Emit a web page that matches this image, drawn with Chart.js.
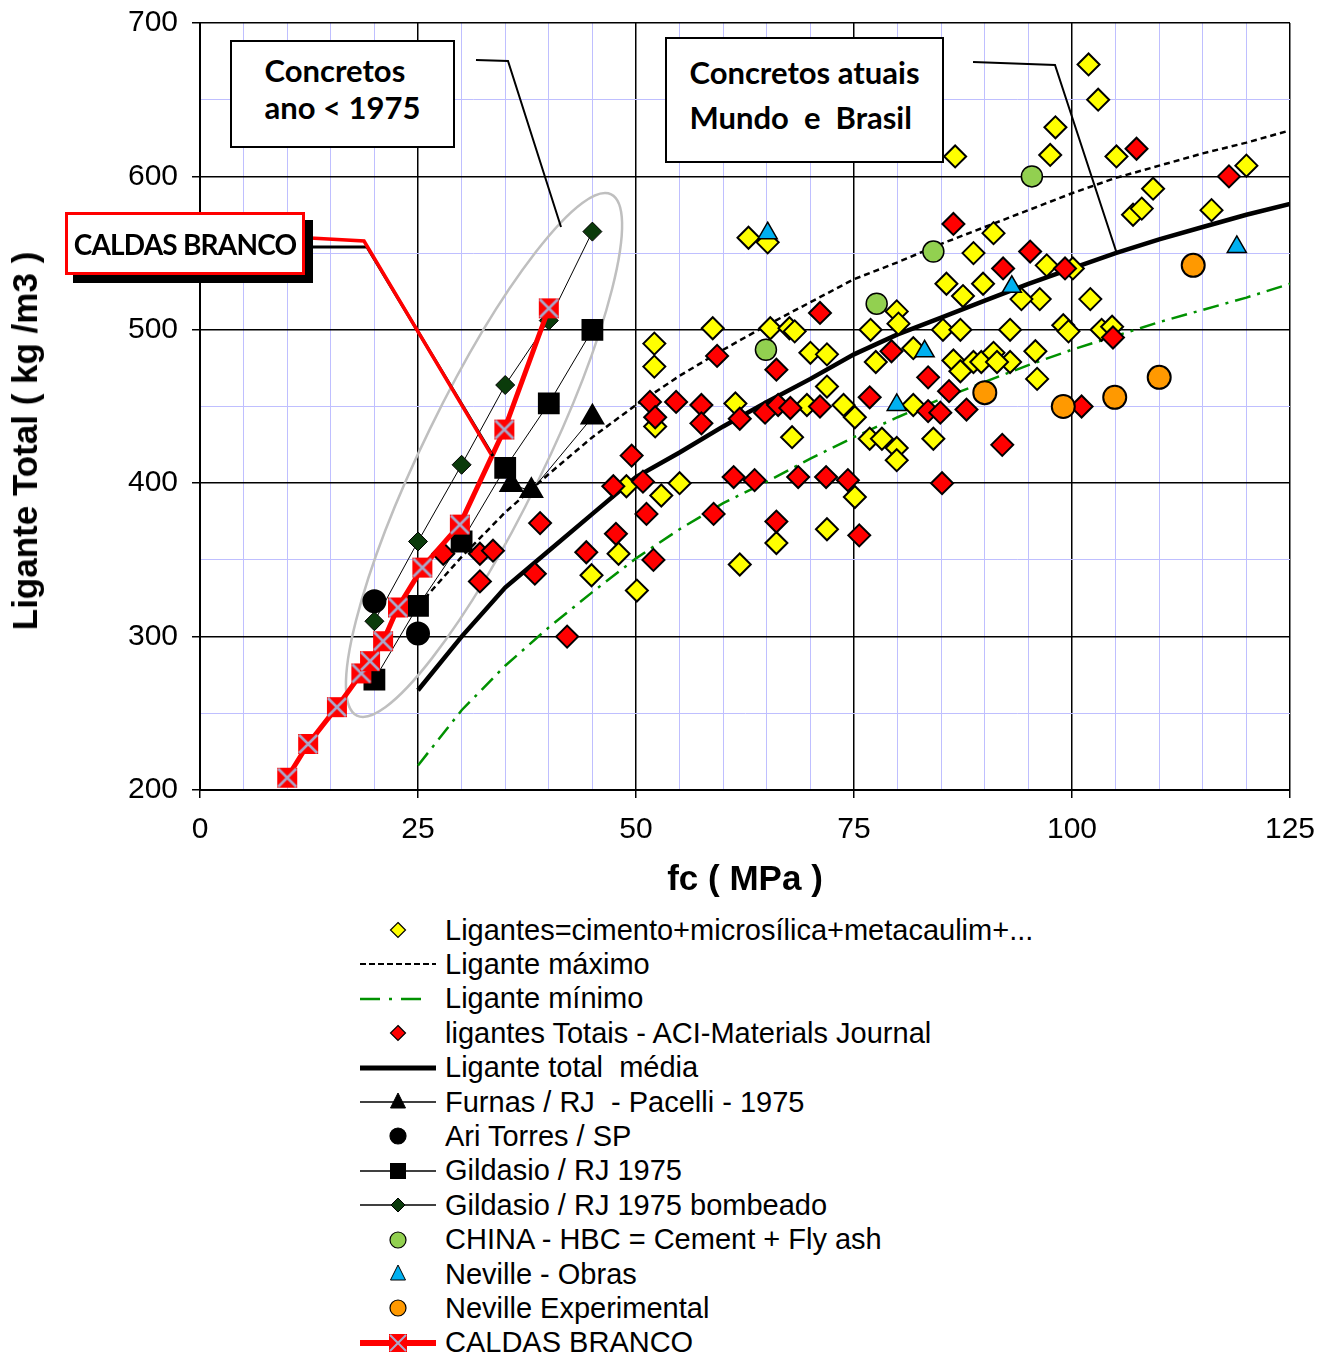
<!DOCTYPE html>
<html>
<head>
<meta charset="utf-8">
<script src="https://cdn.jsdelivr.net/npm/chart.js@4.4.0/dist/chart.umd.min.js"></script>
<style>
  html, body { margin: 0; padding: 0; background: #fff; overflow: hidden; }
  #wrap { position: relative; width: 1327px; height: 1355px; }
  canvas { position: absolute; left: 0; top: 0; }
  .box { position: absolute; box-sizing: border-box; background: #fff; display: flex; flex-direction: column;
         justify-content: center; align-items: center; font-family: Lato, 'Open Sans', sans-serif; font-weight: bold;
         color: #000; white-space: pre; }
  .ytitle { position: absolute; left: 25px; top: 441px; transform: translate(-50%, -50%) rotate(-90deg);
            font-family: 'Liberation Sans', Arial, sans-serif; font-weight: bold; font-size: 35px; white-space: nowrap; color: #000; }
  .legend-row { position: absolute; left: 358px; height: 34px; display: flex; align-items: center; }
  .legend-row span { font-family: 'Liberation Sans', Arial, sans-serif; font-size: 29px; color: #000; white-space: pre; margin-left: 7px; }
</style>
</head>
<body>
<div id="wrap">
  <canvas id="chart" width="1327" height="905"></canvas>
  <div class="ytitle">Ligante Total ( kg /m3 )</div>
  <div class="box" style="left:230px;top:40px;width:225px;height:108px;border:2px solid #000;font-size:31px;line-height:37px;padding-bottom:10px;">Concretos<br>ano &lt; 1975</div>
  <div class="box" style="left:665px;top:37px;width:279px;height:126px;border:2px solid #000;font-size:31px;line-height:45px;padding-bottom:11px;">Concretos atuais<br>Mundo  e  Brasil</div>
  <div class="box" style="left:65px;top:212px;width:240px;height:63px;border:3px solid #FF0000;box-shadow:8px 8px 0 #000;font-size:28px;letter-spacing:-0.8px;">CALDAS BRANCO</div>
  <div id="legend"></div>
</div>
<script>
// curves (fc in MPa, binder in kg/m3)
const curveFc = [25, 30, 35, 40, 45, 50, 55, 60, 65, 70, 75, 80, 85, 90, 95, 100, 105, 110, 115, 120, 125];
const maxY    = [320, 352, 381, 406, 430, 451, 470, 487, 503, 518, 533, 544, 556, 567, 578, 589, 599, 607, 615, 622, 630];
const minY    = [216, 252, 281, 306, 329, 351, 370, 387, 401, 416, 430, 443, 455, 466, 477, 487, 496, 505, 513, 521, 530];
const mediaY  = [265, 300, 332, 356, 380, 404, 420, 437, 453, 468, 484, 497, 508, 519, 530, 540, 550, 559, 567, 575, 582];

// [fc, ligante]
const ligantesPts = [
  [62.9,560],[65.1,557],[88.7,550],[85.6,530],[87.5,522],[58.8,501],[52.1,491],[52.1,476],[65.4,501],[67.6,501],
  [68.2,499],[70,485],[71.9,484],[76.9,500],[79.9,512],[80.1,504],[77.5,479],[81.8,488],[85.2,500],[87.2,500],
  [86.4,480],[88.7,479],[87.2,473],[71.9,463],[61.4,452],[69.6,451],[73.8,451],[75.1,443],[76.8,429],[78.2,429],
  [79.9,423],[79.9,415],[81.8,451],[84.1,429],[52.2,437],[67.9,430],[48.9,398],[55,400],[52.9,392],[75.1,391],
  [71.9,370],[66.1,361],[50.1,330],[44.9,340],[48,354],[61.9,347],[101.9,673],[103,650],[98.1,632],[97.5,614],
  [86.6,613],[105.1,613],[109.3,592],[107,575],[108,579],[116,578],[120,607],[91,563],[97.1,542],[100.1,540],
  [89.8,530],[96.3,520],[102.1,520],[94.2,520],[92.9,500],[99,503],[99.6,499],[103.4,500],[104.6,502],[95.8,486],
  [92.9,479],[89.6,479],[91,485],[91.4,479],[96,468]
];
const aciPts = [
  [86.4,569],[71.1,511],[59.3,483],[66.1,474],[79.3,486],[83.5,469],[85.9,460],[51.6,453],[52.2,443],[54.6,453],
  [57.5,451],[57.5,439],[61.9,442],[64.8,446],[66.3,451],[67.7,449],[71.1,450],[76.8,456],[83.5,447],[84.9,446],
  [87.9,448],[49.5,418],[47.4,398],[50.8,401],[51.2,380],[58.9,380],[61.2,404],[63.6,402],[68.6,404],[71.8,404],
  [74.3,402],[85.1,400],[66.1,375],[75.6,366],[47.7,367],[44.3,355],[52,350],[42.1,300],[107.4,618],[118,600],
  [95.2,551],[92.1,540],[99.2,540],[104.7,495],[92,425],[101.1,450],[27.9,354],[32.1,354],[33.6,356],[32.1,336],
  [39,374],[38.4,341]
];
const furnasPts   = [[35.7,399],[38,395],[45,443]];
const ariPts      = [[20,323],[25,302]];
const gildasioPts = [[20,272],[25,320],[30,362],[35,410],[40,452],[45,500]];
const bombeadoPts = [[20,310],[25,362],[30,412],[35,464],[40,506],[45,564]];
const chinaPts    = [[84.1,551],[77.6,517],[64.9,487],[95.4,600]];
const obrasPts    = [[65.1,563],[83.1,486],[79.9,451],[118.9,554],[93.1,528]];
const expPts      = [[113.9,542],[90,459],[99,450],[104.9,456],[110,469]];
const caldasPts   = [[10,208],[12.4,230],[15.7,254],[18.5,276],[19.5,284],[21,297],[22.7,319],[25.5,345],[29.8,373],[34.9,435],[40,514]];

const xTicks = [0, 25, 50, 75, 100, 125];
const yTicks = [200, 300, 400, 500, 600, 700];

const FONT = "'Liberation Sans', Arial, sans-serif";
const pts = a => a.map(([x, y]) => ({ x, y }));
const curve = ys => curveFc.map((x, i) => ({ x, y: ys[i] }));

function caldasMarker() {
  const c = document.createElement('canvas');
  c.width = c.height = 24;
  const g = c.getContext('2d');
  g.fillStyle = '#FF0000';
  g.fillRect(2, 2, 20, 20);
  g.strokeStyle = '#A9A9CC';
  g.lineWidth = 2.5;
  g.beginPath();
  g.moveTo(3, 3); g.lineTo(21, 21);
  g.moveTo(21, 3); g.lineTo(3, 21);
  g.stroke();
  return c;
}

const scatter = (label, data, style, color, radius, order, extra) => Object.assign({
  label, data: pts(data), showLine: false, pointStyle: style, pointRadius: radius,
  pointBackgroundColor: color, pointBorderColor: '#000', pointBorderWidth: 2, order
}, extra || {});

const datasets = [
  { label: 'Ligante mínimo', data: curve(minY), showLine: true, pointRadius: 0, borderColor: '#009100',
    borderWidth: 2.5, borderDash: [16, 7, 3, 7], order: 20 },
  { label: 'Ligante máximo', data: curve(maxY), showLine: true, pointRadius: 0, borderColor: '#000',
    borderWidth: 2.5, borderDash: [6, 4], order: 19 },
  { label: 'Ligante total  média', data: curve(mediaY), showLine: true, pointRadius: 0, borderColor: '#000',
    borderWidth: 4.5, order: 18 },
  scatter('Ligantes=cimento+microsílica+metacaulim+...', ligantesPts, 'rectRot', '#FFFF00', 11, 17),
  scatter('ligantes Totais - ACI-Materials Journal', aciPts, 'rectRot', '#FF0000', 11, 16),
  scatter('CHINA - HBC = Cement + Fly ash', chinaPts, 'circle', '#92D050', 10.5, 15, { pointBorderWidth: 1.5 }),
  scatter('Neville - Obras', obrasPts, 'triangle', '#00B0F0', 11, 14, { pointBorderWidth: 1.5 }),
  scatter('Neville Experimental', expPts, 'circle', '#FF9900', 11.5, 13, { pointBorderWidth: 2 }),
  scatter('Gildasio / RJ 1975', gildasioPts, 'rect', '#000', 14, 11, { showLine: true, borderColor: '#000', borderWidth: 1 }),
  scatter('Gildasio / RJ 1975 bombeado', bombeadoPts, 'rectRot', '#0B3B0B', 9.5, 10, { showLine: true, borderColor: '#000', borderWidth: 1, pointBorderWidth: 1 }),
  scatter('Furnas / RJ  - Pacelli - 1975', furnasPts, 'triangle', '#000', 12.5, 9, { showLine: true, borderColor: '#000', borderWidth: 1 }),
  scatter('Ari Torres / SP', ariPts, 'circle', '#000', 11, 8),
  { label: 'CALDAS BRANCO', data: pts(caldasPts), showLine: true, borderColor: '#FF0000', borderWidth: 5,
    pointStyle: caldasMarker(), pointRadius: 12, order: 1 }
];

// annotation geometry in data units
const ellipseCenter = { x: 32.57, y: 418.4 };
const leaders = [
  { color: '#000', width: 2, path: [[31.65, 675.9], [35.32, 675.2], [41.4, 567.0]] },
  { color: '#000', width: 2, path: [[88.65, 674.6], [98.05, 672.6], [105.16, 549.4]] },
  { color: '#000', width: 3, path: [[12.61, 554.0], [19.15, 554.0], [33.6, 417.7]] },
  { color: '#FF0000', width: 3.5, path: [[12.61, 559.8], [18.81, 557.9], [33.37, 419.0]] }
];

const notes = {
  id: 'notes',
  beforeDatasetsDraw(chart) {
    const { ctx, scales: { x, y } } = chart;
    ctx.save();
    ctx.strokeStyle = '#BFBFBF';
    ctx.lineWidth = 2.5;
    ctx.beginPath();
    ctx.ellipse(x.getPixelForValue(ellipseCenter.x), y.getPixelForValue(ellipseCenter.y), 290, 60, -64 * Math.PI / 180, 0, Math.PI * 2);
    ctx.stroke();
    ctx.restore();
  },
  afterDatasetsDraw(chart) {
    const { ctx, scales: { x, y } } = chart;
    ctx.save();
    leaders.forEach(l => {
      ctx.strokeStyle = l.color;
      ctx.lineWidth = l.width;
      ctx.beginPath();
      l.path.forEach(([a, b], i) => {
        const px = x.getPixelForValue(a), py = y.getPixelForValue(b);
        i ? ctx.lineTo(px, py) : ctx.moveTo(px, py);
      });
      ctx.stroke();
    });
    ctx.restore();
  }
};

new Chart(document.getElementById('chart'), {
  type: 'scatter',
  data: { datasets },
  plugins: [notes],
  options: {
    responsive: false,
    animation: false,
    devicePixelRatio: 1,
    events: [],
    layout: { padding: { top: 23, right: 37, left: 0, bottom: 0 } },
    plugins: { legend: { display: false }, tooltip: { enabled: false } },
    scales: {
      x: {
        type: 'linear', min: 0, max: 125,
        afterFit: s => { s.height = 115; s.paddingLeft = 0; s.paddingRight = 0; },
        ticks: { stepSize: 5, autoSkip: false, maxRotation: 0, padding: 14, color: '#000',
                 font: { family: FONT, size: 30 },
                 callback: v => xTicks.includes(v) ? v : '' },
        grid: { color: c => xTicks.includes(c.tick.value) ? '#000' : '#BFBFFF',
                lineWidth: c => xTicks.includes(c.tick.value) ? 1.5 : 1,
                tickColor: c => xTicks.includes(c.tick.value) ? '#000' : 'rgba(0,0,0,0)', tickLength: 8 },
        border: { color: '#000', width: 2 },
        title: { display: true, text: 'fc ( MPa )', color: '#000', padding: { top: 4, bottom: 4 },
                 font: { family: FONT, size: 35, weight: 'bold' } }
      },
      y: {
        type: 'linear', min: 200, max: 700,
        afterFit: s => { s.width = 200; s.paddingTop = 0; s.paddingBottom = 0; },
        ticks: { stepSize: 50, autoSkip: false, padding: 14, color: '#000',
                 font: { family: FONT, size: 30 },
                 callback: v => yTicks.includes(v) ? v : '' },
        grid: { color: c => yTicks.includes(c.tick.value) ? '#000' : '#BFBFFF',
                lineWidth: c => yTicks.includes(c.tick.value) ? 1.5 : 1,
                tickColor: c => yTicks.includes(c.tick.value) ? '#000' : 'rgba(0,0,0,0)', tickLength: 8 },
        border: { color: '#000', width: 2 },
        title: { display: false }
      }
    }
  }
});

// legend, in the order of the original figure
const legendItems = [
  ['Ligantes=cimento+microsílica+metacaulim+...', 'diamond', '#FFFF00'],
  ['Ligante máximo', 'dash'],
  ['Ligante mínimo', 'dashdot'],
  ['ligantes Totais - ACI-Materials Journal', 'diamond', '#FF0000'],
  ['Ligante total  média', 'thick'],
  ['Furnas / RJ  - Pacelli - 1975', 'lineTri'],
  ['Ari Torres / SP', 'circle', '#000'],
  ['Gildasio / RJ 1975', 'lineSquare'],
  ['Gildasio / RJ 1975 bombeado', 'lineDiamond'],
  ['CHINA - HBC = Cement + Fly ash', 'circle', '#92D050'],
  ['Neville - Obras', 'tri', '#00B0F0'],
  ['Neville Experimental', 'circle', '#FF9900'],
  ['CALDAS BRANCO', 'caldas']
];

function symbol(kind, fill) {
  const line = (w, extra) => `<line x1="2" y1="17" x2="78" y2="17" stroke="${extra || '#000'}" stroke-width="${w}"/>`;
  const diamond = (r, f, sw) => `<polygon points="40,${17 - r} ${40 + r},17 40,${17 + r} ${40 - r},17" fill="${f}" stroke="#000" stroke-width="${sw}"/>`;
  const tri = (f) => `<polygon points="40,8 47.5,23 32.5,23" fill="${f}" stroke="#000" stroke-width="1"/>`;
  let s = '';
  switch (kind) {
    case 'diamond': s = diamond(7.5, fill, 1.2); break;
    case 'dash': s = `<line x1="2" y1="17" x2="78" y2="17" stroke="#000" stroke-width="2" stroke-dasharray="6 3"/>`; break;
    case 'dashdot': s = `<line x1="2" y1="17" x2="72" y2="17" stroke="#009100" stroke-width="2.5" stroke-dasharray="20 9 3 9"/>`; break;
    case 'thick': s = line(5); break;
    case 'lineTri': s = line(1.3) + tri('#000'); break;
    case 'circle': s = `<circle cx="40" cy="17" r="8" fill="${fill}" stroke="#000" stroke-width="1.2"/>`; break;
    case 'lineSquare': s = line(1.3) + `<rect x="32" y="9" width="16" height="16" fill="#000"/>`; break;
    case 'lineDiamond': s = line(1.3) + diamond(7, '#0B3B0B', 1); break;
    case 'tri': s = tri(fill); break;
    case 'caldas': s = line(6, '#FF0000') + `<rect x="31" y="8" width="18" height="18" fill="#FF0000"/>` +
      `<path d="M32 9 L48 25 M48 9 L32 25" stroke="#A9A9CC" stroke-width="2"/>`; break;
  }
  return `<svg width="80" height="34" viewBox="0 0 80 34">${s}</svg>`;
}

const legend = document.getElementById('legend');
legendItems.forEach(([label, kind, fill], i) => {
  const row = document.createElement('div');
  row.className = 'legend-row';
  row.style.top = (913 + i * 34.4) + 'px';
  row.innerHTML = symbol(kind, fill) + `<span></span>`;
  row.querySelector('span').textContent = label;
  legend.appendChild(row);
});
</script>
</body>
</html>
